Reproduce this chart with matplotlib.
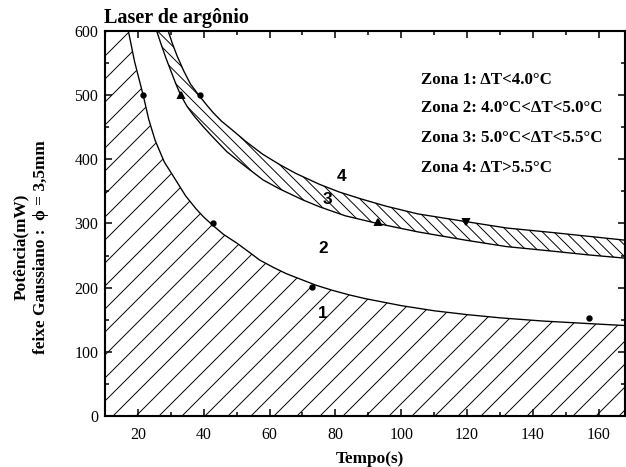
import matplotlib

matplotlib.use("Agg")
import matplotlib.pyplot as plt
from matplotlib.ticker import MultipleLocator

# boundary 1/2
c1_x = [17.1, 19, 21.6, 23.3, 25.2, 28, 31.7, 34.5, 37.8, 40, 42.8, 46, 49.9,
        53.9, 57, 61, 65, 69, 74, 79, 84, 89, 100, 110, 120, 130, 143, 157, 168]
c1_y = [600, 552, 500, 462, 430, 396, 366, 343, 322, 310, 297, 283, 270,
        255, 243, 232, 222, 214, 204, 196, 189, 183, 172, 164, 158, 153, 148,
        144, 141]

# boundary 2/3
c2_x = [25.7, 27, 28.5, 30, 31.5, 33, 35, 37, 40, 42.7, 47, 52.9, 58, 63, 70,
        75.2, 83, 92.8, 105, 119.6, 132, 145.8, 157, 168]
c2_y = [600, 580, 558, 538, 518, 500, 482, 468, 450, 435, 412, 388, 368, 354,
        337, 326, 312, 300, 287, 274, 264, 257, 251, 246]

# boundary 3/4
c3_x = [29.2, 30.5, 32, 34, 36, 38.8, 41, 43, 45.5, 47.9, 53, 57.9, 63, 68,
        75.2, 81.2, 88, 95.4, 105, 119.6, 132, 145.8, 157, 168]
c3_y = [600, 580, 560, 537, 517, 498, 484, 472, 459, 449, 427, 408, 392, 378,
        361, 349, 338, 327, 315, 303, 293, 286, 280, 274]

# measured points
dot_x = [21.6, 42.8, 73, 157, 38.8]
dot_y = [500, 300, 201, 152, 500]
tri_up_x = [33, 92.8]
tri_up_y = [500, 302]
tri_dn_x = [119.6]
tri_dn_y = [302]

zone_text = [
    "Zona 1: \u0394T<4.0\u00b0C",
    "Zona 2: 4.0\u00b0C<\u0394T<5.0\u00b0C",
    "Zona 3: 5.0\u00b0C<\u0394T<5.5\u00b0C",
    "Zona 4: \u0394T>5.5\u00b0C",
]
zone_y = [523, 480, 433, 386]
region_labels = ["1", "2", "3", "4"]
region_x = [76.2, 76.2, 77.7, 82]
region_y = [160, 261, 337, 374]

XMIN, XMAX = 10, 168

plt.rcParams["font.family"] = ["Liberation Serif", "DejaVu Serif"]
plt.rcParams["hatch.linewidth"] = 0.5

W, H, DPI = 626, 467, 138
fig = plt.figure(figsize=(W / DPI, H / DPI), dpi=DPI)
ax = fig.add_axes([105 / W, 1 - 416 / H, 520 / W, 385 / H])

# zone 1: under the lowest curve
z1_x = [XMIN, XMIN] + c1_x + [XMAX]
z1_y = [0, 600] + c1_y + [0]
ax.fill(z1_x, z1_y, facecolor="none", edgecolor="black", hatch="//", lw=0)

# zone 3: between the two upper curves
z3_x = c2_x + c3_x[::-1]
z3_y = c2_y + c3_y[::-1]
ax.fill(z3_x, z3_y, facecolor="none", edgecolor="black", hatch="\\\\\\\\", lw=0)

for cx, cy in ((c1_x, c1_y), (c2_x, c2_y), (c3_x, c3_y)):
    ax.plot(cx, cy, color="black", lw=0.7)

ax.plot(dot_x, dot_y, "o", color="black", ms=2.3)
ax.plot(tri_up_x, tri_up_y, "^", color="black", ms=3)
ax.plot(tri_dn_x, tri_dn_y, "v", color="black", ms=3)

for t, y in zip(zone_text, zone_y):
    ax.text(106, y, t, fontsize=8.8, fontweight="bold", ha="left", va="center")
for t, x, y in zip(region_labels, region_x, region_y):
    ax.text(x, y, t, fontsize=9, fontweight="bold", ha="center", va="center",
            family=["Liberation Sans", "DejaVu Sans"])

ax.set_xlim(XMIN, XMAX)
ax.set_ylim(0, 600)
ax.xaxis.set_major_locator(MultipleLocator(20))
ax.xaxis.set_minor_locator(MultipleLocator(10))
ax.yaxis.set_major_locator(MultipleLocator(100))
ax.yaxis.set_minor_locator(MultipleLocator(50))
ax.tick_params(which="both", direction="in", top=True, right=True,
               labelsize=8.3, width=0.8)
ax.tick_params(which="major", length=3.6)
ax.tick_params(which="minor", length=2)
ax.tick_params(axis="x", pad=5.5)
ax.tick_params(axis="y", pad=3.5)
for s in ax.spines.values():
    s.set_linewidth(1.1)

fig.text(104 / W, 1 - 23 / H, "Laser de argônio", fontsize=10.5,
         fontweight="bold", ha="left", va="baseline")
fig.text(370 / W, 1 - 463 / H, "Tempo(s)", fontsize=9, fontweight="bold",
         ha="center", va="baseline")
fig.text(31 / W, 1 - 247 / H,
         "Potência(mW)\nfeixe Gaussiano :  \u03d5 = 3,5mm", fontsize=9,
         fontweight="bold", rotation=90, ha="center", va="center",
         multialignment="center", linespacing=1.3)

fig.savefig("out.png", dpi=DPI)
